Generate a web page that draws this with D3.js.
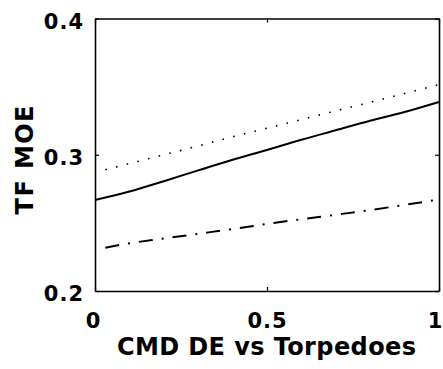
<!DOCTYPE html>
<html>
<head>
<meta charset="utf-8">
<script src="https://cdn.jsdelivr.net/npm/d3@7"></script>
<style>
  html, body { margin: 0; padding: 0; background: #fff; }
  svg { display: block; }
  text { font-family: "DejaVu Sans", "Liberation Sans", Arial, sans-serif; font-weight: bold; fill: #000; }
</style>
</head>
<body>
<svg id="chart" width="443" height="369"></svg>
<script>
// Series: task-force MOE against CMD DE effectiveness vs torpedoes
const xSolid = [0, 0.1, 0.2, 0.3, 0.4, 0.5, 0.6, 0.7, 0.8, 0.9, 1.0];
const ySolid = [0.2668, 0.2730, 0.2806, 0.2885, 0.2963, 0.3035, 0.3110, 0.3180, 0.3250, 0.3314, 0.3388];

const xDotted = [0.03, 0.1, 0.2, 0.3, 0.4, 0.5, 0.6, 0.7, 0.8, 0.9, 1.0];
const yDotted = [0.2890, 0.2935, 0.3000, 0.3065, 0.3132, 0.3195, 0.3258, 0.3322, 0.3385, 0.3450, 0.3515];

const xDashDot = [0.03, 0.1, 0.2, 0.3, 0.4, 0.5, 0.6, 0.7, 0.8, 0.9, 1.0];
const yDashDot = [0.2318, 0.2350, 0.2385, 0.2420, 0.2455, 0.2492, 0.2527, 0.2560, 0.2594, 0.2632, 0.2672];

const xTicks = [0, 0.5, 1];
const xTickLabels = ["0", "0.5", "1"];
const yTicks = [0.2, 0.3, 0.4];
const yTickLabels = ["0.2", "0.3", "0.4"];

const xTitle = "CMD DE vs Torpedoes";
const yTitle = "TF MOE";

const svg = d3.select("#chart");
const plotLeft = 95, plotRight = 439, plotTop = 18.5, plotBottom = 291;

const x = d3.scaleLinear().domain([0, 1]).range([plotLeft, plotRight]);
const y = d3.scaleLinear().domain([0.2, 0.4]).range([plotBottom, plotTop]);

const line = d3.line().x(d => x(d[0])).y(d => y(d[1])).curve(d3.curveMonotoneX);

const series = [
  { xs: xSolid, ys: ySolid, dash: null, width: 2 },
  { xs: xDotted, ys: yDotted, dash: "1.6,9.4", width: 1.6 },
  { xs: xDashDot, ys: yDashDot, dash: "14,9,2,9", width: 2 }
];

series.forEach(s => {
  svg.append("path")
    .datum(s.xs.map((v, i) => [v, s.ys[i]]))
    .attr("d", line)
    .attr("fill", "none")
    .attr("stroke", "#000")
    .attr("stroke-width", s.width)
    .attr("stroke-dasharray", s.dash);
});

// Axes with inward ticks on all four sides
const tickLen = 4;
const axisBottom = d3.axisBottom(x).tickValues(xTicks).tickSizeInner(-tickLen).tickSizeOuter(0).tickFormat("");
const axisTop = d3.axisTop(x).tickValues(xTicks).tickSizeInner(-tickLen).tickSizeOuter(0).tickFormat("");
const axisLeft = d3.axisLeft(y).tickValues(yTicks).tickSizeInner(-tickLen).tickSizeOuter(0).tickFormat("");
const axisRight = d3.axisRight(y).tickValues(yTicks).tickSizeInner(-tickLen).tickSizeOuter(0).tickFormat("");

[
  [axisBottom, `translate(0,${plotBottom})`],
  [axisTop, `translate(0,${plotTop})`],
  [axisLeft, `translate(${plotLeft},0)`],
  [axisRight, `translate(${plotRight},0)`]
].forEach(([ax, tr]) => {
  const g = svg.append("g").attr("transform", tr).call(ax);
  g.selectAll("path.domain").attr("stroke", "#000").attr("stroke-width", 1.6);
  g.selectAll(".tick line").attr("stroke", "#000").attr("stroke-width", 1.2);
});

// Tick labels
const tickFont = 21, tickSpacing = 1;
svg.append("g").selectAll("text")
  .data(xTicks)
  .join("text")
  .attr("x", (d, i) => x(d) + tickSpacing / 2 + (i === 0 ? -2 : i === 2 ? -4 : 0))
  .attr("y", 328)
  .attr("text-anchor", "middle")
  .attr("font-size", tickFont)
  .attr("letter-spacing", tickSpacing)
  .text((d, i) => xTickLabels[i]);

svg.append("g").selectAll("text")
  .data(yTicks)
  .join("text")
  .attr("x", 83 + tickSpacing)
  .attr("y", d => y(d) + 10)
  .attr("text-anchor", "end")
  .attr("font-size", tickFont)
  .attr("letter-spacing", tickSpacing)
  .text((d, i) => yTickLabels[i]);

// Axis titles
svg.append("text")
  .attr("x", 266.5 + 0.2)
  .attr("y", 355)
  .attr("text-anchor", "middle")
  .attr("font-size", 24)
  .attr("letter-spacing", 0.4)
  .text(xTitle);

svg.append("text")
  .attr("transform", "translate(33,160) rotate(-90)")
  .attr("x", 0.7)
  .attr("text-anchor", "middle")
  .attr("font-size", 24)
  .attr("letter-spacing", 1.4)
  .text(yTitle);
</script>
</body>
</html>
